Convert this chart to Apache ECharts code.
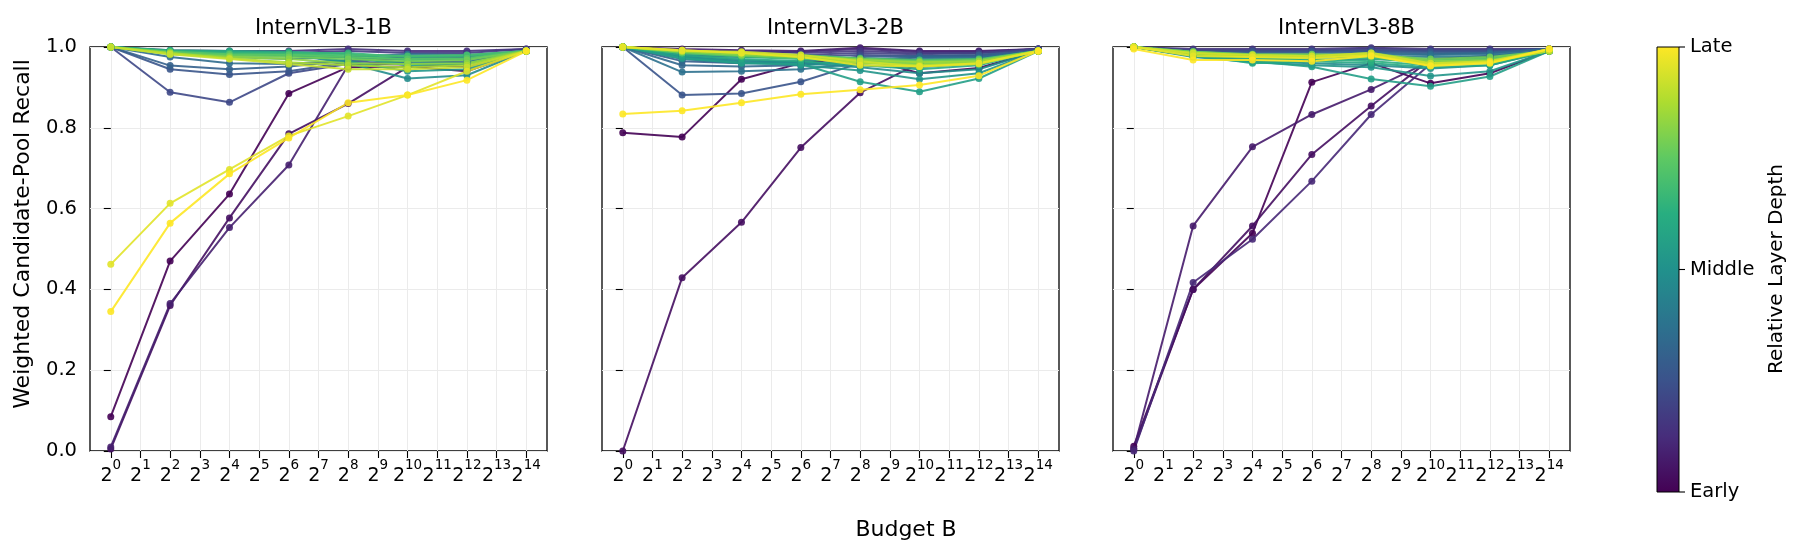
<!DOCTYPE html>
<html>
<head>
<meta charset="utf-8">
<script src="https://cdn.jsdelivr.net/npm/echarts@6/dist/echarts.min.js"></script>
<style>
  html, body { margin: 0; padding: 0; background: #fff; }
  #chart { width: 1800px; height: 556px; }
</style>
</head>
<body>
<div id="chart"></div>
<script>
// budget B = 2^k, measured at these exponents
const budgetExp = [0, 2, 4, 6, 8, 10, 12, 14];
const tickExp = [0, 1, 2, 3, 4, 5, 6, 7, 8, 9, 10, 11, 12, 13, 14];
const panelTitles = ['InternVL3-1B', 'InternVL3-2B', 'InternVL3-8B'];
const depthLabels = ['Early', 'Middle', 'Late'];

// one row per layer, early -> late
const recall1B = [
  [0.085, 0.47, 0.636, 0.885, 0.95, 0.952, 0.94, 0.99],
  [0.005, 0.36, 0.577, 0.785, 0.86, 0.95, 0.958, 0.99],
  [0.01, 0.365, 0.553, 0.708, 0.955, 0.96, 0.95, 0.99],
  [1.0, 0.992, 0.99, 0.99, 0.995, 0.99, 0.99, 0.995],
  [1.0, 0.99, 0.985, 0.985, 0.99, 0.985, 0.985, 0.995],
  [1.0, 0.888, 0.863, 0.935, 0.958, 0.965, 0.962, 0.99],
  [1.0, 0.945, 0.932, 0.94, 0.962, 0.972, 0.968, 0.99],
  [1.0, 0.954, 0.945, 0.952, 0.966, 0.975, 0.972, 0.99],
  [1.0, 0.975, 0.96, 0.958, 0.968, 0.978, 0.975, 0.99],
  [1.0, 0.985, 0.975, 0.97, 0.975, 0.982, 0.98, 0.99],
  [1.0, 0.988, 0.98, 0.978, 0.975, 0.96, 0.962, 0.99],
  [1.0, 0.99, 0.985, 0.982, 0.96, 0.922, 0.93, 0.99],
  [1.0, 0.99, 0.985, 0.98, 0.965, 0.94, 0.945, 0.99],
  [1.0, 0.99, 0.988, 0.985, 0.975, 0.955, 0.958, 0.99],
  [1.0, 0.992, 0.99, 0.988, 0.982, 0.968, 0.97, 0.99],
  [1.0, 0.99, 0.985, 0.985, 0.985, 0.975, 0.978, 0.99],
  [1.0, 0.985, 0.98, 0.982, 0.98, 0.978, 0.98, 0.99],
  [1.0, 0.988, 0.982, 0.98, 0.975, 0.97, 0.972, 0.99],
  [1.0, 0.985, 0.978, 0.975, 0.97, 0.965, 0.968, 0.99],
  [1.0, 0.982, 0.975, 0.97, 0.96, 0.958, 0.96, 0.99],
  [1.0, 0.985, 0.972, 0.962, 0.955, 0.95, 0.955, 0.99],
  [1.0, 0.982, 0.97, 0.958, 0.945, 0.945, 0.95, 0.99],
  [0.462, 0.613, 0.697, 0.78, 0.829, 0.881, 0.94, 0.99],
  [0.345, 0.564, 0.686, 0.775, 0.862, 0.881, 0.918, 0.99]
];

const recall2B = [
  [0.788, 0.777, 0.92, 0.96, 0.975, 0.935, 0.948, 0.99],
  [0.0, 0.429, 0.566, 0.751, 0.887, 0.96, 0.972, 0.99],
  [1.0, 0.995, 0.992, 0.99, 0.998, 0.99, 0.99, 0.995],
  [1.0, 0.99, 0.985, 0.988, 0.995, 0.988, 0.988, 0.995],
  [1.0, 0.99, 0.99, 0.985, 0.99, 0.985, 0.985, 0.995],
  [1.0, 0.985, 0.98, 0.98, 0.985, 0.982, 0.985, 0.995],
  [1.0, 0.98, 0.975, 0.975, 0.98, 0.978, 0.98, 0.995],
  [1.0, 0.881, 0.885, 0.914, 0.96, 0.975, 0.978, 0.99],
  [1.0, 0.965, 0.96, 0.965, 0.975, 0.978, 0.98, 0.99],
  [1.0, 0.955, 0.952, 0.955, 0.968, 0.975, 0.975, 0.99],
  [1.0, 0.938, 0.94, 0.945, 0.96, 0.97, 0.972, 0.99],
  [1.0, 0.97, 0.96, 0.958, 0.965, 0.968, 0.97, 0.99],
  [1.0, 0.975, 0.965, 0.962, 0.955, 0.95, 0.96, 0.99],
  [1.0, 0.978, 0.968, 0.96, 0.95, 0.935, 0.945, 0.99],
  [1.0, 0.975, 0.962, 0.955, 0.942, 0.92, 0.935, 0.99],
  [1.0, 0.972, 0.96, 0.958, 0.914, 0.889, 0.922, 0.99],
  [1.0, 0.98, 0.97, 0.965, 0.955, 0.945, 0.955, 0.99],
  [1.0, 0.985, 0.975, 0.97, 0.962, 0.955, 0.96, 0.99],
  [1.0, 0.988, 0.98, 0.975, 0.968, 0.962, 0.965, 0.99],
  [1.0, 0.99, 0.985, 0.98, 0.972, 0.968, 0.97, 0.99],
  [1.0, 0.985, 0.978, 0.972, 0.965, 0.96, 0.965, 0.99],
  [1.0, 0.99, 0.982, 0.978, 0.97, 0.965, 0.968, 0.99],
  [1.0, 0.988, 0.98, 0.975, 0.962, 0.958, 0.962, 0.99],
  [1.0, 0.99, 0.985, 0.978, 0.968, 0.962, 0.965, 0.99],
  [1.0, 0.992, 0.985, 0.975, 0.96, 0.955, 0.96, 0.99],
  [1.0, 0.99, 0.988, 0.98, 0.965, 0.952, 0.958, 0.99],
  [1.0, 0.992, 0.985, 0.975, 0.955, 0.952, 0.96, 0.99],
  [0.834, 0.842, 0.862, 0.883, 0.894, 0.906, 0.929, 0.99]
];

const recall8B = [
  [0.012, 0.40, 0.539, 0.913, 0.96, 0.91, 0.935, 0.99],
  [0.005, 0.40, 0.557, 0.734, 0.854, 0.97, 0.978, 0.99],
  [0.005, 0.557, 0.753, 0.833, 0.895, 0.965, 0.975, 0.99],
  [0.0, 0.417, 0.524, 0.668, 0.833, 0.958, 0.97, 0.99],
  [1.0, 0.995, 0.995, 0.995, 0.998, 0.995, 0.995, 0.995],
  [1.0, 0.992, 0.992, 0.992, 0.995, 0.992, 0.992, 0.995],
  [1.0, 0.99, 0.99, 0.99, 0.992, 0.99, 0.99, 0.995],
  [1.0, 0.988, 0.988, 0.988, 0.99, 0.988, 0.988, 0.995],
  [1.0, 0.985, 0.985, 0.985, 0.988, 0.985, 0.985, 0.995],
  [1.0, 0.985, 0.98, 0.98, 0.985, 0.982, 0.985, 0.995],
  [1.0, 0.982, 0.978, 0.978, 0.982, 0.98, 0.982, 0.99],
  [1.0, 0.98, 0.975, 0.975, 0.978, 0.975, 0.978, 0.99],
  [1.0, 0.978, 0.97, 0.968, 0.97, 0.965, 0.97, 0.99],
  [1.0, 0.978, 0.965, 0.96, 0.955, 0.947, 0.955, 0.99],
  [1.0, 0.975, 0.962, 0.955, 0.95, 0.928, 0.94, 0.99],
  [1.0, 0.978, 0.965, 0.951, 0.921, 0.903, 0.927, 0.99],
  [1.0, 0.98, 0.96, 0.965, 0.96, 0.95, 0.955, 0.99],
  [1.0, 0.982, 0.97, 0.97, 0.965, 0.955, 0.96, 0.99],
  [1.0, 0.985, 0.975, 0.975, 0.972, 0.96, 0.965, 0.99],
  [1.0, 0.985, 0.978, 0.978, 0.975, 0.965, 0.97, 0.99],
  [1.0, 0.988, 0.98, 0.98, 0.978, 0.968, 0.972, 0.99],
  [1.0, 0.988, 0.982, 0.982, 0.98, 0.97, 0.975, 0.99],
  [1.0, 0.985, 0.98, 0.978, 0.985, 0.965, 0.968, 0.99],
  [1.0, 0.985, 0.978, 0.975, 0.982, 0.96, 0.965, 0.99],
  [1.0, 0.982, 0.975, 0.975, 0.98, 0.958, 0.962, 0.99],
  [1.0, 0.985, 0.98, 0.978, 0.985, 0.96, 0.965, 0.995],
  [1.0, 0.978, 0.975, 0.972, 0.98, 0.955, 0.962, 0.995],
  [0.995, 0.968, 0.968, 0.965, 0.978, 0.953, 0.96, 0.995]
];

const FONT = 'DejaVu Sans';

// viridis colormap
const viridisStops = ['#440154', '#472d7b', '#3b528b', '#2c728e', '#21918c', '#28ae80', '#5ec962', '#addc30', '#fde725'];
function hexToRgb(h) {
  return [parseInt(h.slice(1, 3), 16), parseInt(h.slice(3, 5), 16), parseInt(h.slice(5, 7), 16)];
}
function viridis(t) {
  const n = viridisStops.length - 1;
  const pos = Math.min(Math.max(t, 0), 1) * n;
  const i = Math.min(Math.floor(pos), n - 1);
  const f = pos - i;
  const a = hexToRgb(viridisStops[i]);
  const b = hexToRgb(viridisStops[i + 1]);
  const c = a.map((v, k) => Math.round(v + (b[k] - v) * f));
  return 'rgb(' + c.join(',') + ')';
}

const chart = echarts.init(document.getElementById('chart'), null, { renderer: 'canvas' });

const gridLefts = [90, 602, 1113];
const gridWidth = 457;
const gridTop = 47;
const gridHeight = 404;

const grids = gridLefts.map(l => ({
  left: l, top: gridTop, width: gridWidth, height: gridHeight,
  show: true, borderColor: '#000', borderWidth: 1.3, backgroundColor: 'transparent'
}));

const xAxes = gridLefts.map((l, p) => ({
  type: 'value', gridIndex: p, min: -0.7, max: 14.7,
  axisLine: { show: false },
  axisTick: { show: true, customValues: tickExp, length: 7, lineStyle: { color: '#000', width: 1.1 } },
  axisLabel: {
    customValues: tickExp, margin: 7, color: '#000', fontFamily: FONT,
    formatter: v => '{b|2}{s|' + v + '}',
    rich: {
      b: { fontSize: 19, fontFamily: FONT, color: '#000', lineHeight: 28, verticalAlign: 'bottom' },
      s: { fontSize: 13.5, fontFamily: FONT, color: '#000', lineHeight: 13, verticalAlign: 'top' }
    }
  },
  splitLine: { show: true, lineStyle: { color: '#ebebeb', width: 1 } }
}));

const yAxes = gridLefts.map((l, p) => ({
  type: 'value', gridIndex: p, min: 0, max: 1, interval: 0.2,
  axisLine: { show: false },
  axisTick: { show: true, length: 7, lineStyle: { color: '#000', width: 1.1 } },
  axisLabel: {
    show: p === 0, fontSize: 19.5, fontFamily: FONT, color: '#000', margin: 13,
    formatter: v => v.toFixed(1)
  },
  splitLine: { show: true, lineStyle: { color: '#ebebeb', width: 1 } }
}));

const panels = [recall1B, recall2B, recall8B];
const series = [];
panels.forEach((layers, p) => {
  layers.forEach((vals, i) => {
    const c = viridis(i / (layers.length - 1));
    series.push({
      type: 'line', xAxisIndex: p, yAxisIndex: p,
      data: vals.map((v, k) => [budgetExp[k], v]),
      symbol: 'circle', symbolSize: 7, showSymbol: true,
      lineStyle: { color: c, width: 2, opacity: 0.9 },
      itemStyle: { color: c, opacity: 0.9 },
      emphasis: { disabled: true },
      silent: true, animation: false
    });
  });
});

// colorbar
const cbX = 1657, cbY = 47, cbW = 22, cbH = 445;
const cbStops = viridisStops.map((c, i) => ({ offset: i / (viridisStops.length - 1), color: c }));
const graphics = [
  {
    type: 'rect', shape: { x: cbX, y: cbY, width: cbW, height: cbH },
    style: { fill: new echarts.graphic.LinearGradient(0, 1, 0, 0, cbStops), stroke: '#000', lineWidth: 1 }
  }
];
depthLabels.forEach((t, i) => {
  const y = cbY + cbH - i * cbH / 2;
  graphics.push({ type: 'line', shape: { x1: cbX + cbW, y1: y, x2: cbX + cbW + 6, y2: y }, style: { stroke: '#000', lineWidth: 1.1 } });
  graphics.push({ type: 'text', x: cbX + cbW + 11, y: y, style: { text: t, font: '19.5px "DejaVu Sans"', fill: '#000', textVerticalAlign: 'middle' } });
});
graphics.push({
  type: 'text', x: 1777, y: 269, rotation: Math.PI / 2,
  style: { text: 'Relative Layer Depth', font: '20px "DejaVu Sans"', fill: '#000', textAlign: 'center', textVerticalAlign: 'middle' }
});
graphics.push({
  type: 'text', x: 23, y: 234, rotation: Math.PI / 2,
  style: { text: 'Weighted Candidate-Pool Recall', font: '22px "DejaVu Sans"', fill: '#000', textAlign: 'center', textVerticalAlign: 'middle' }
});
graphics.push({
  type: 'text', x: 906, y: 530,
  style: { text: 'Budget B', font: '22px "DejaVu Sans"', fill: '#000', textAlign: 'center', textVerticalAlign: 'middle' }
});

chart.setOption({
  backgroundColor: '#fff',
  animation: false,
  title: panelTitles.map((t, p) => ({
    text: t, left: gridLefts[p] + gridWidth / 2, top: 13, textAlign: 'center',
    textStyle: { fontSize: 21, fontWeight: 'normal', fontFamily: FONT, color: '#000' }
  })),
  grid: grids,
  xAxis: xAxes,
  yAxis: yAxes,
  series: series,
  graphic: graphics
});
</script>
</body>
</html>
